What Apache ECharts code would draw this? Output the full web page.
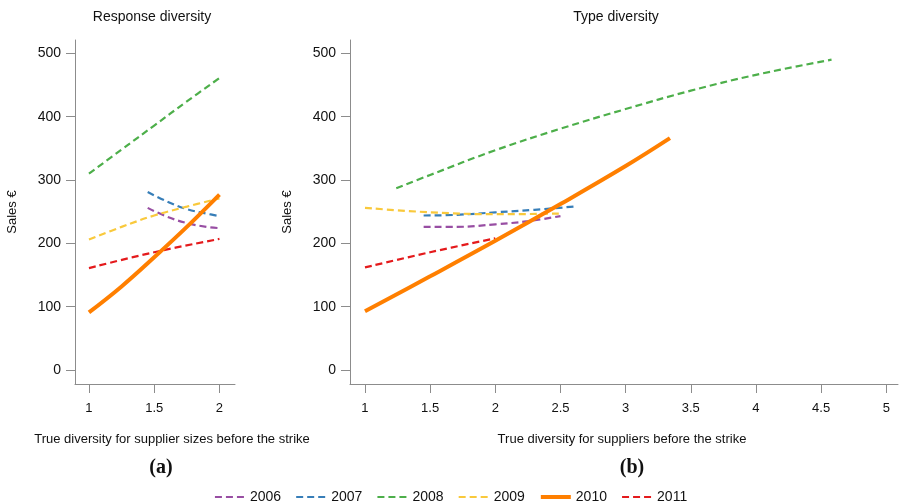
<!DOCTYPE html>
<html>
<head>
<meta charset="utf-8">
<script src="https://cdn.jsdelivr.net/npm/echarts@6/dist/echarts.min.js"></script>
<style>html,body{margin:0;padding:0;background:#fff}#c{width:901px;height:504px}</style>
</head>
<body>
<div id="c"></div>
<script>
// ---- Data ----
var years = ['2006', '2007', '2008', '2009', '2010', '2011'];
var colors = ['#984EA3', '#377EB8', '#4DAF4A', '#F9C93C', '#FF7F00', '#E41A1C'];
var yTicks = [0, 100, 200, 300, 400, 500];
var xTicksLeft = [1, 1.5, 2];
var xTicksRight = [1, 1.5, 2, 2.5, 3, 3.5, 4, 4.5, 5];

// Panel (a): Response diversity  [x, sales]
var resp2006 = [[1.45, 256], [1.6, 242], [1.75, 232], [1.9, 226], [2.0, 224]];
var resp2007 = [[1.45, 281], [1.6, 266], [1.75, 254], [1.9, 247], [2.0, 243]];
var resp2008 = [[1.0, 310], [1.25, 348], [1.5, 386], [1.75, 424], [2.0, 461]];
var resp2009 = [[1.0, 206], [1.25, 226], [1.5, 244], [1.75, 258], [2.0, 271]];
var resp2010 = [[1.0, 91], [1.25, 132], [1.5, 178], [1.75, 226], [2.0, 277]];
var resp2011 = [[1.0, 161], [1.5, 186], [2.0, 207]];

// Panel (b): Type diversity  [x, sales]
var type2006 = [[1.45, 226], [1.7, 226], [2.0, 230], [2.25, 235], [2.5, 243]];
var type2007 = [[1.45, 244], [1.7, 245], [2.0, 249], [2.3, 253], [2.6, 258]];
var type2008 = [[1.24, 287], [1.5, 308], [2.0, 347], [2.5, 381], [3.0, 412], [3.5, 441], [4.0, 466], [4.58, 490]];
var type2009 = [[1.0, 256], [1.5, 249], [2.0, 246], [2.5, 247]];
var type2010 = [[1.0, 93], [1.5, 148], [2.0, 204], [2.5, 262], [3.0, 322], [3.34, 366]];
var type2011 = [[1.0, 162], [1.5, 186], [2.0, 208]];

var respData = [resp2006, resp2007, resp2008, resp2009, resp2010, resp2011];
var typeData = [type2006, type2007, type2008, type2009, type2010, type2011];

// ---- Chart ----
var FONT = '"Liberation Sans", Arial, sans-serif';
var axisGray = '#8c8c8c';

function xAxis(idx, min, max, ticks) {
  return {
    type: 'value', gridIndex: idx, min: min, max: max,
    axisLine: {show: true, onZero: false, lineStyle: {color: axisGray, width: 1}},
    axisTick: {show: true, length: 9, lineStyle: {color: axisGray}, customValues: ticks},
    axisLabel: {color: '#111', fontSize: 13, fontFamily: FONT, margin: 18, customValues: ticks},
    splitLine: {show: false}
  };
}
function yAxis(idx) {
  return {
    type: 'value', gridIndex: idx, min: -22, max: 521,
    name: 'Sales €', nameLocation: 'middle', nameGap: 56, nameRotate: 90,
    nameTextStyle: {color: '#111', fontSize: 13, fontFamily: FONT},
    axisLine: {show: true, onZero: false, lineStyle: {color: axisGray, width: 1}},
    axisTick: {show: true, length: 9, lineStyle: {color: axisGray}, customValues: yTicks},
    axisLabel: {color: '#111', fontSize: 14, fontFamily: FONT, margin: 14, customValues: yTicks},
    splitLine: {show: false}
  };
}

var series = [];
years.forEach(function (y, i) {
  var solid = (y === '2010');
  var ls = {color: colors[i], width: solid ? 4 : 2.2, type: solid ? 'solid' : [7, 4]};
  series.push({name: y, type: 'line', xAxisIndex: 0, yAxisIndex: 0, data: respData[i],
    smooth: 0.4, showSymbol: false, symbol: 'none', lineStyle: ls, itemStyle: {color: colors[i]}, z: solid ? 3 : 2});
  series.push({name: y, type: 'line', xAxisIndex: 1, yAxisIndex: 1, data: typeData[i],
    smooth: 0.4, showSymbol: false, symbol: 'none', lineStyle: ls, itemStyle: {color: colors[i]}, z: solid ? 3 : 2});
});

var legendData = years.map(function (y) {
  return y === '2010' ? {name: y, lineStyle: {width: 4}} : {name: y, lineStyle: {width: 2.2}};
});

var chart = echarts.init(document.getElementById('c'), null, {renderer: 'canvas'});
chart.setOption({
  animation: false,
  backgroundColor: '#fff',
  textStyle: {fontFamily: FONT},
  title: [
    {text: 'Response diversity', left: 147, top: 5, textAlign: 'center',
     textStyle: {fontSize: 14, fontWeight: 'normal', color: '#111', fontFamily: FONT}},
    {text: 'Type diversity', left: 611, top: 5, textAlign: 'center',
     textStyle: {fontSize: 14, fontWeight: 'normal', color: '#111', fontFamily: FONT}},
    {text: 'True diversity for supplier sizes before the strike', left: 167, top: 428, textAlign: 'center',
     textStyle: {fontSize: 13, fontWeight: 'normal', color: '#111', fontFamily: FONT}},
    {text: 'True diversity for suppliers before the strike', left: 617, top: 428, textAlign: 'center',
     textStyle: {fontSize: 13, fontWeight: 'normal', color: '#111', fontFamily: FONT}},
    {text: '(a)', left: 156, top: 453, textAlign: 'center',
     textStyle: {fontSize: 20, fontWeight: 'bold', color: '#111', fontFamily: '"Liberation Serif", "Times New Roman", serif'}},
    {text: '(b)', left: 627, top: 453, textAlign: 'center',
     textStyle: {fontSize: 20, fontWeight: 'bold', color: '#111', fontFamily: '"Liberation Serif", "Times New Roman", serif'}}
  ],
  legend: {
    data: legendData, left: 'center', top: 485, itemWidth: 30, itemHeight: 14, itemGap: 14,
    itemStyle: {opacity: 0},
    textStyle: {fontSize: 14, color: '#111', fontFamily: FONT}
  },
  grid: [
    {left: 75, top: 40, width: 160, height: 344},
    {left: 350, top: 40, width: 548, height: 344}
  ],
  xAxis: [xAxis(0, 0.893, 2.119, xTicksLeft), xAxis(1, 0.885, 5.09, xTicksRight)],
  yAxis: [yAxis(0), yAxis(1)],
  series: series
});
</script>
</body>
</html>
